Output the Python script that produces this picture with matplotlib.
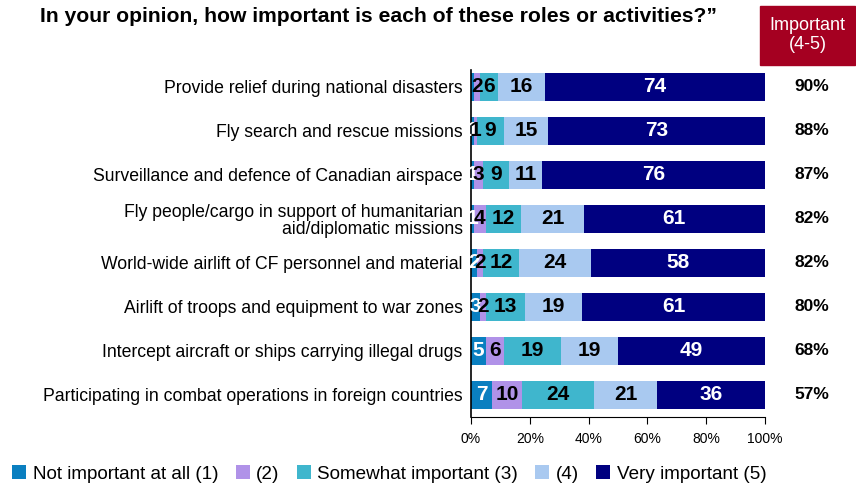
import numpy as np
import matplotlib
matplotlib.use('Agg')
import matplotlib.pyplot as plt
from matplotlib.patches import Rectangle

plt.rcParams['font.family'] = ['Liberation Sans', 'DejaVu Sans']

# data
categories = ["Provide relief during national disasters",
              "Fly search and rescue missions",
              "Surveillance and defence of Canadian airspace",
              "Fly people/cargo in support of humanitarian\naid/diplomatic missions",
              "World-wide airlift of CF personnel and material",
              "Airlift of troops and equipment to war zones",
              "Intercept aircraft or ships carrying illegal drugs",
              "Participating in combat operations in foreign countries"]
not_important = [1, 1, 1, 1, 2, 3, 5, 7]
level_2 = [2, 1, 3, 4, 2, 2, 6, 10]
somewhat = [6, 9, 9, 12, 12, 13, 19, 24]
level_4 = [16, 15, 11, 21, 24, 19, 19, 21]
very = [74, 73, 76, 61, 58, 61, 49, 36]
first_labels = ["", "1", "1", "1", "2", "3", "5", "7"]
important = ["90%", "88%", "87%", "82%", "82%", "80%", "68%", "57%"]
series_names = ["Not important at all (1)", "(2)", "Somewhat important (3)", "(4)", "Very important (5)"]
colors = ["#0A7FC0", "#B092E8", "#3FB6CD", "#A9C9F0", "#000080"]

fig = plt.figure(figsize=(8.56, 4.87), dpi=100)
ax = fig.add_axes([471/856, 1-417/487, 294/856, 347/487])

data = np.array([not_important, level_2, somewhat, level_4, very], dtype=float)
shares = data / data.sum(axis=0) * 100
y = np.arange(len(categories))
left = np.zeros(len(categories))
for k in range(5):
    ax.barh(y, shares[k], left=left, height=0.64, color=colors[k], label=series_names[k])
    for i in range(len(categories)):
        if k == 0:
            txt, col = first_labels[i], 'white'
        else:
            txt, col = str(int(data[k, i])), 'white' if k == 4 else 'black'
        ax.text(left[i] + shares[k, i] / 2, y[i], txt, ha='center', va='center',
                fontsize=15, fontweight='bold', color=col)
    left += shares[k]

ax.set_xlim(0, 100)
ax.set_ylim(len(categories) - 0.5, -0.38)
ax.set_yticks(y)
ax.set_yticklabels(categories, fontsize=12.7, linespacing=1.0)
ax.tick_params(axis='y', length=0, pad=6)
ax.set_xticks(np.arange(0, 101, 20))
ax.set_xticklabels([f"{v}%" for v in range(0, 101, 20)], fontsize=10)
ax.tick_params(axis='x', length=5, direction='out', pad=6)
for s in ['top', 'right']:
    ax.spines[s].set_visible(False)
ax.spines['left'].set_linewidth(1.2)

# important column
for i, txt in enumerate(important):
    ax.text(1.16, y[i], txt, transform=ax.get_yaxis_transform(), ha='center', va='center',
            fontsize=12.5, fontweight='bold')
fig.patches.append(Rectangle((760/856, 1-65/487), 95/856, 59/487, transform=fig.transFigure,
                             color='#A50021'))
fig.text(807.5/856, 1-35/487, "Important\n(4-5)", ha='center', va='center', color='white',
         fontsize=13, linespacing=1.15)

fig.text(40/856, 1-17/487, "In your opinion, how important is each of these roles or activities?\u201d",
         fontsize=15.2, fontweight='bold', ha='left', va='center')

fig.legend(loc='lower left', bbox_to_anchor=(0.0, -0.016), ncol=5, frameon=False,
           prop={'size': 13.6},
           handlelength=0.75, handleheight=0.75, handletextpad=0.35, columnspacing=0.9, borderaxespad=0.25)

fig.savefig('out.png', dpi=100)
